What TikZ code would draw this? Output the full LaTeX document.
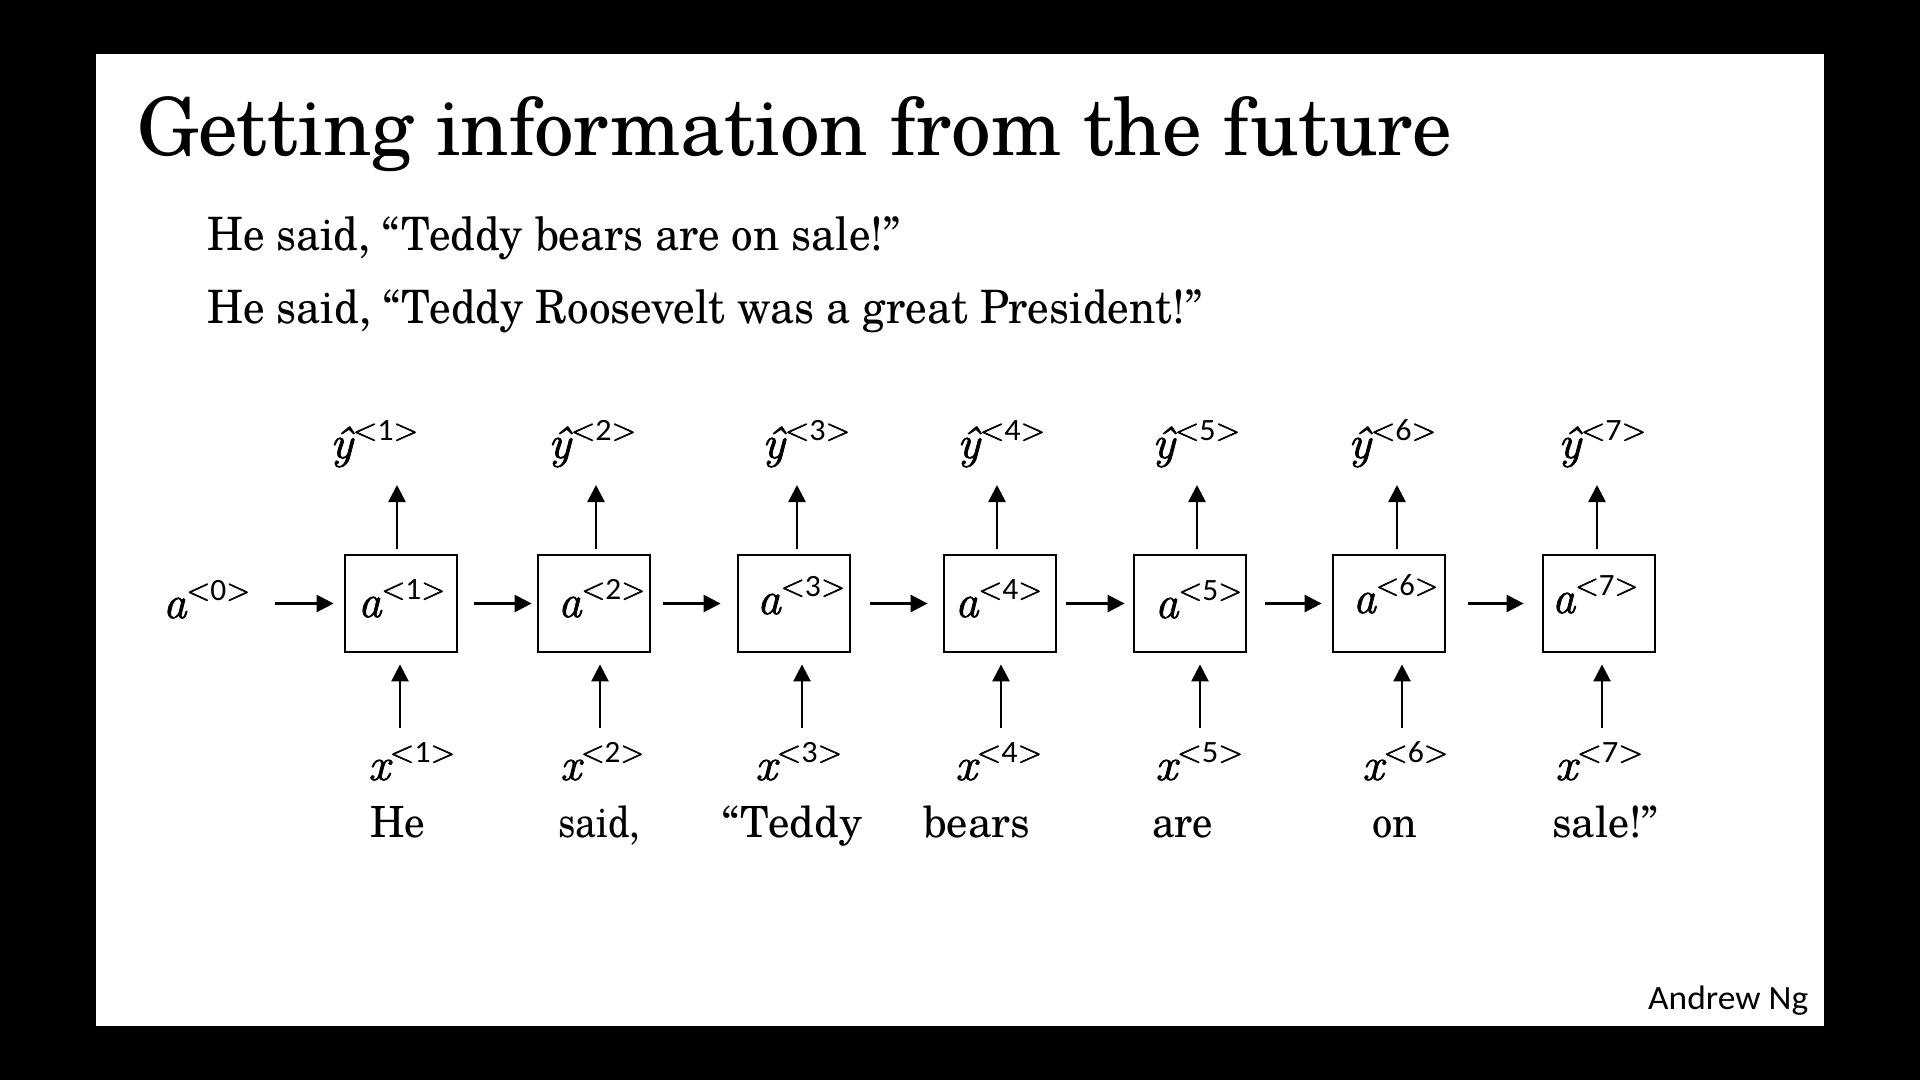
\documentclass[tikz,border=0pt]{standalone}
\usepackage{fontspec}
\usepackage{graphicx}
\setmainfont{TeX Gyre Schola}
\newfontfamily\carl{Carlito}
\newfontfamily\lmr[FakeBold=1.6]{Latin Modern Roman}
\usetikzlibrary{arrows.meta}
\newcommand\fitw[3]{\resizebox{#1}{\height}{\fontsize{#2}{#2}\selectfont #3}}
\newcommand\sym[3]{\resizebox{#1}{\height}{\fontsize{46}{46}\selectfont\lmr\itshape #2\upshape\raisebox{18pt}{\fontsize{31}{31}\selectfont <{\carl #3}>}}}
\begin{document}
\begin{tikzpicture}[x=1pt,y=-1pt,
  arr/.style={line width=2.6pt, -{Triangle[length=17pt,width=17pt]}},
  cell/.style={draw, line width=2.8pt, minimum width=112pt, minimum height=97pt, inner sep=0pt},
  txt/.style={anchor=base west, inner sep=0pt}]
\useasboundingbox (0,0) rectangle (1920,1080);
\fill[black] (0,0) rectangle (1920,1080);
\fill[white] (96,54) rectangle (1824,1026);

% title and sentences
\node[txt] (title) at (137,155) {\fitw{1315pt}{80}{Getting information from the future}};
\node[txt] (s1) at (207,250) {\fitw{693pt}{46}{He said, “Teddy bears are on sale!”}};
\node[txt] (s2) at (207,323) {\fitw{995pt}{46}{He said, “Teddy Roosevelt was a great President!”}};
\node[txt] (author) at (1648,1009) {\fitw{160pt}{34}{\carl Andrew Ng}};

% cells
\node[cell] (b1) at (401,603.5) {};
\node[cell] (b2) at (594,603.5) {};
\node[cell] (b3) at (794,603.5) {};
\node[cell] (b4) at (1000,603.5) {};
\node[cell] (b5) at (1190,603.5) {};
\node[cell] (b6) at (1389,603.5) {};
\node[cell] (b7) at (1599,603.5) {};

% activation labels
\node[txt] (a0) at (163,618) {\sym{87pt}{a}{0}};
\node[txt] (l1) at (358,617) {\sym{87pt}{a}{1}};
\node[txt] (l2) at (558,617) {\sym{87pt}{a}{2}};
\node[txt] (l3) at (757,614) {\sym{88pt}{a}{3}};
\node[txt] (l4) at (955,617) {\sym{87pt}{a}{4}};
\node[txt] (l5) at (1155,618) {\sym{87pt}{a}{5}};
\node[txt] (l6) at (1353,613) {\sym{85pt}{a}{6}};
\node[txt] (l7) at (1552,613) {\sym{86pt}{a}{7}};

% outputs
\node[txt] (y1) at (330,458) {\sym{88pt}{\^{y}}{1}};
\node[txt] (y2) at (548,458) {\sym{88pt}{\^{y}}{2}};
\node[txt] (y3) at (762,458) {\sym{88pt}{\^{y}}{3}};
\node[txt] (y4) at (957,458) {\sym{88pt}{\^{y}}{4}};
\node[txt] (y5) at (1152,458) {\sym{88pt}{\^{y}}{5}};
\node[txt] (y6) at (1348,458) {\sym{88pt}{\^{y}}{6}};
\node[txt] (y7) at (1558,458) {\sym{88pt}{\^{y}}{7}};

% inputs
\node[txt] (x1) at (368,780) {\sym{87pt}{x}{1}};
\node[txt] (x2) at (560,780) {\sym{84pt}{x}{2}};
\node[txt] (x3) at (755,780) {\sym{87pt}{x}{3}};
\node[txt] (x4) at (955,780) {\sym{87pt}{x}{4}};
\node[txt] (x5) at (1155,780) {\sym{88pt}{x}{5}};
\node[txt] (x6) at (1362,780) {\sym{86pt}{x}{6}};
\node[txt] (x7) at (1555,780) {\sym{88pt}{x}{7}};

% words
\node[txt] (w1) at (370,837) {\fitw{55pt}{43}{He}};
\node[txt] (w2) at (558,837) {\fitw{82pt}{43}{said,}};
\node[txt] (w3) at (722,837) {\fitw{140pt}{43}{“Teddy}};
\node[txt] (w4) at (923,837) {\fitw{107pt}{43}{bears}};
\node[txt] (w5) at (1152,837) {\fitw{61pt}{43}{are}};
\node[txt] (w6) at (1372,837) {\fitw{45pt}{43}{on}};
\node[txt] (w7) at (1552,837) {\fitw{106pt}{43}{sale!”}};

% arrow end coordinates
\coordinate (u1) at (397,485);
\coordinate (u2) at (596,485);
\coordinate (u3) at (797,485);
\coordinate (u4) at (997,485);
\coordinate (u5) at (1197,485);
\coordinate (u6) at (1397,485);
\coordinate (u7) at (1597,485);
\coordinate (d1) at (400,728);
\coordinate (d2) at (600,728);
\coordinate (d3) at (802,728);
\coordinate (d4) at (1001,728);
\coordinate (d5) at (1200,728);
\coordinate (d6) at (1402,728);
\coordinate (d7) at (1602,728);

% vertical arrows
\foreach \i in {1,...,7}{
  \draw[arr, shorten <=5pt] (b\i.north -| u\i) -- (u\i);
  \draw[arr, shorten >=11pt] (d\i) -- (b\i.south -| d\i);
}

% recurrent arrows
\draw[arr, shorten <=25pt, shorten >=10pt] (a0.east |- b1.west) -- (b1.west);
\draw[arr, shorten <=16pt, shorten >=5pt] (b1.east) -- (b2.west);
\draw[arr, shorten <=12pt, shorten >=16pt] (b2.east) -- (b3.west);
\draw[arr, shorten <=19pt, shorten >=15pt] (b3.east) -- (b4.west);
\draw[arr, shorten <=9pt, shorten >=8pt] (b4.east) -- (b5.west);
\draw[arr, shorten <=18pt, shorten >=10pt] (b5.east) -- (b6.west);
\draw[arr, shorten <=22pt, shorten >=18pt] (b6.east) -- (b7.west);
\end{tikzpicture}
\end{document}
